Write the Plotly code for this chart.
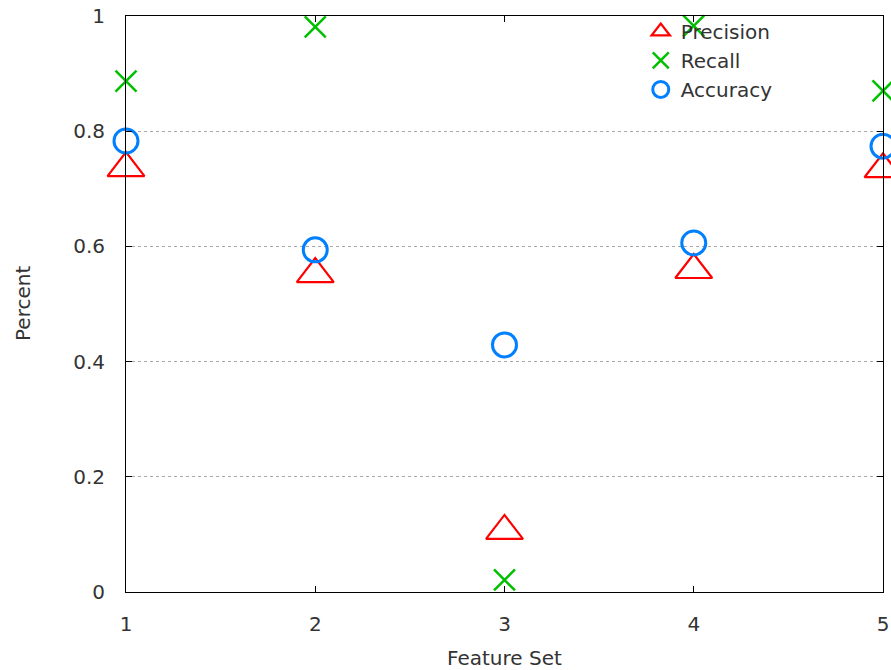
import plotly.graph_objects as go

feature_sets = [1, 2, 3, 4, 5]
precision = [0.736, 0.552, 0.106, 0.559, 0.734]
recall = [0.887, 0.981, 0.021, 0.983, 0.870]
accuracy = [0.783, 0.594, 0.429, 0.606, 0.774]
y_ticks = [0, 0.2, 0.4, 0.6, 0.8, 1]
y_tick_labels = ["0", "0.2", "0.4", "0.6", "0.8", "1"]
x_ticks = [1, 2, 3, 4, 5]

FONT = "DejaVu Sans"
TXT = "#333333"

fig = go.Figure()
fig.add_trace(go.Scatter(
    x=feature_sets, y=precision, mode="markers", name="Precision", cliponaxis=False,
    marker=dict(symbol="triangle-up-open", size=32, color="#ff0000",
                line=dict(color="#ff0000", width=2.2)),
))
fig.add_trace(go.Scatter(
    x=feature_sets, y=recall, mode="markers", name="Recall", cliponaxis=False,
    marker=dict(symbol="x-thin", size=21, color="#00c000",
                line=dict(color="#00c000", width=2.5)),
))
fig.add_trace(go.Scatter(
    x=feature_sets, y=accuracy, mode="markers", name="Accuracy", cliponaxis=False,
    marker=dict(symbol="circle-open", size=24, color="#0080ff",
                line=dict(color="#0080ff", width=3)),
))

fig.update_layout(
    width=891, height=670,
    margin=dict(l=126, r=8, t=16, b=78, autoexpand=False),
    paper_bgcolor="white", plot_bgcolor="white",
    font=dict(family=FONT, size=20, color=TXT),
    showlegend=True,
    legend=dict(x=0.68, y=1.007, xanchor="left", yanchor="top",
                bgcolor="rgba(0,0,0,0)", font=dict(size=20, color=TXT),
                itemsizing="trace", tracegroupgap=0),
    xaxis=dict(range=[1, 5], tickvals=x_ticks, ticks="inside", ticklen=6,
               tickcolor="black", showline=True, linecolor="black", linewidth=1,
               mirror="allticks", showgrid=False, zeroline=False, automargin=False,
               ticklabelstandoff=14, tickfont=dict(size=20, color=TXT)),
    yaxis=dict(range=[0, 1], tickvals=y_ticks, ticktext=y_tick_labels,
               ticks="inside", ticklen=6, tickcolor="black", showline=True,
               linecolor="black", linewidth=1, mirror="allticks", automargin=False,
               showgrid=True, gridcolor="#a8a8a8", griddash="dot", gridwidth=1,
               zeroline=False, ticklabelstandoff=16,
               tickfont=dict(size=20, color=TXT)),
    annotations=[
        dict(text="Feature Set", x=0.5, y=0, xref="paper", yref="paper",
             xanchor="center", yanchor="middle", yshift=-66, showarrow=False,
             font=dict(size=20, color=TXT, family=FONT)),
        dict(text="Percent", x=0, y=0.5, xref="paper", yref="paper",
             xanchor="center", yanchor="middle", xshift=-103, textangle=-90,
             showarrow=False, font=dict(size=20, color=TXT, family=FONT)),
    ],
)

fig.write_html(
    "out.html",
    config={"displayModeBar": False},
    post_script="document.body.style.margin='0';document.body.style.padding='0';document.documentElement.style.overflow='hidden';",
)
